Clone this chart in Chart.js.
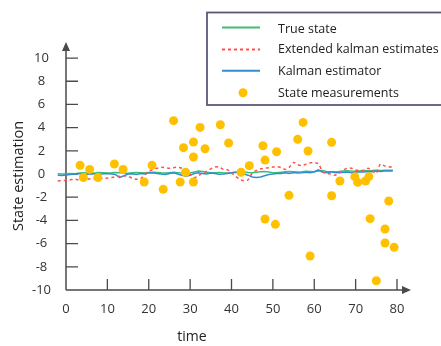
<!DOCTYPE html>
<html><head><meta charset="utf-8">
<script src="https://cdn.jsdelivr.net/npm/chart.js@4.4.0/dist/chart.umd.min.js"></script>
<style>html,body{margin:0;padding:0;background:#fff;}</style>
</head><body>
<canvas id="c" width="441" height="346"></canvas>
<script>
// ---- data ----
const timeSteps = [-2,-1,0,1,2,3,4,5,6,7,8,9,10,11,12,13,14,15,16,17,18,19,20,21,22,23,24,25,26,27,28,29,30,31,32,33,34,35,36,37,38,39,40,41,42,43,44,45,46,47,48,49,50,51,52,53,54,55,56,57,58,59,60,61,62,63,64,65,66,67,68,69,70,71,72,73,74,75,76,77,78,79];
const trueState = [0.02,0.0,0.03,0.05,0.02,0.06,0.1,0.08,0.05,0.09,0.12,0.1,0.08,0.1,0.13,0.11,0.08,0.06,0.1,0.14,0.12,0.1,0.13,0.16,0.14,0.1,0.08,0.12,0.15,0.12,0.08,0.05,0.1,0.18,0.25,0.22,0.15,0.1,0.12,0.14,0.1,0.08,0.12,0.16,0.2,0.18,0.13,0.1,0.15,0.2,0.22,0.18,0.12,0.1,0.15,0.2,0.22,0.2,0.18,0.2,0.24,0.22,0.2,0.25,0.3,0.22,0.18,0.2,0.22,0.25,0.28,0.25,0.24,0.27,0.3,0.28,0.3,0.32,0.3,0.32,0.33,0.32];
const extendedKalman = [-0.6,-0.58,-0.55,-0.5,-0.45,-0.5,-0.5,-0.45,-0.4,-0.38,-0.35,-0.4,-0.35,-0.3,-0.25,-0.2,-0.15,-0.2,-0.35,-0.45,-0.4,-0.1,0.23,0.4,0.5,0.58,0.55,0.5,0.55,0.58,0.5,0.35,0.0,-0.3,-0.15,0.1,0.23,0.45,0.6,0.6,0.4,0.37,0.1,-0.2,-0.45,-0.58,-0.5,0.08,0.3,0.45,0.5,0.55,0.6,0.63,0.55,0.4,0.6,1.0,0.8,0.72,0.85,0.97,0.95,0.9,0.2,0.05,0.0,-0.1,0.1,0.34,0.5,0.5,0.34,0.3,0.32,0.49,0.3,0.06,0.86,0.7,0.63,0.6];
const kalmanEstimate = [-0.1,-0.12,-0.08,-0.05,0.0,0.05,-0.02,-0.05,0.02,0.0,-0.05,0.02,0.05,0.0,-0.05,-0.3,-0.15,0.0,0.02,-0.05,0.05,0.0,0.08,0.1,0.05,0.0,-0.05,0.05,0.1,0.0,-0.1,-0.2,-0.1,0.05,0.1,0.05,0.0,0.08,0.05,-0.02,0.0,0.05,0.1,0.15,0.1,0.0,-0.1,-0.25,-0.3,-0.25,-0.15,-0.05,0.0,0.05,0.05,0.1,0.05,0.12,0.08,0.1,0.15,0.1,0.2,0.35,0.15,0.1,0.2,0.12,0.1,0.15,0.18,0.1,0.15,0.2,0.18,0.22,0.2,0.25,0.22,0.25,0.28,0.25];
const measTime = [3.4,4.2,5.7,7.7,11.7,13.8,18.9,20.8,23.5,26.0,27.6,28.4,28.9,30.8,30.8,30.8,32.4,33.6,37.3,39.3,42.3,44.3,47.6,48.1,48.1,50.6,50.9,53.9,56.0,57.3,58.5,59.0,64.2,64.2,66.2,69.8,70.5,72.4,73.2,73.5,75.0,77.1,77.1,78.0,79.3];
const measValue = [0.75,-0.3,0.4,-0.3,0.86,0.4,-0.69,0.75,-1.32,4.6,-0.69,2.27,0.15,2.76,1.47,-0.69,4.02,2.18,4.25,2.67,0.15,0.72,2.44,1.2,-3.88,-4.34,1.92,-1.84,2.99,4.45,1.98,-7.07,2.73,-1.87,-0.6,-0.23,-0.72,-0.6,-0.23,-3.85,-9.2,-4.74,-5.95,-2.33,-6.32];
const xTickValues = [0,10,20,30,40,50,60,70,80];
const yTickValues = [-10,-8,-6,-4,-2,0,2,4,6,8,10];
const seriesNames = ['True state','Extended kalman estimates','Kalman estimator','State measurements'];

const pts = (xs, ys) => xs.map((x, i) => ({x: x, y: ys[i]}));
const FONT = "'Open Sans', 'Noto Sans', sans-serif";
const AXIS = '#4a4a4a';

const axesPlugin = {
  id: 'axesArrows',
  beforeDatasetsDraw(chart) {
    const ctx = chart.ctx, xs = chart.scales.x, ys = chart.scales.y, a = chart.chartArea;
    const x0 = xs.getPixelForValue(0), yb = ys.getPixelForValue(-10);
    ctx.save();
    ctx.strokeStyle = AXIS; ctx.fillStyle = AXIS; ctx.lineWidth = 1.5;
    ctx.beginPath();
    ctx.moveTo(x0, yb); ctx.lineTo(x0, a.top + 4);
    ctx.moveTo(x0, yb); ctx.lineTo(a.right - 4, yb);
    ctx.stroke();
    ctx.lineWidth = 1.3;
    ctx.beginPath();
    xs.ticks.forEach(t => { const p = xs.getPixelForValue(t.value); if (t.value !== 0) { ctx.moveTo(p, yb); ctx.lineTo(p, yb - 11); } });
    ys.ticks.forEach(t => { const p = ys.getPixelForValue(t.value); if (t.value !== -10) { ctx.moveTo(x0, p); ctx.lineTo(x0 + 12, p); } });
    ctx.stroke();
    ctx.beginPath();
    ctx.moveTo(x0, a.top - 2); ctx.lineTo(x0 - 4, a.top + 7); ctx.lineTo(x0 + 4, a.top + 7); ctx.closePath();
    ctx.moveTo(a.right + 1, yb); ctx.lineTo(a.right - 8, yb - 4); ctx.lineTo(a.right - 8, yb + 4); ctx.closePath();
    ctx.fill();
    ctx.restore();
  },
  afterDraw(chart) {
    const ctx = chart.ctx;
    ctx.save();
    ctx.fillStyle = '#222';
    ctx.font = "14px " + FONT;
    ctx.textAlign = 'center'; ctx.textBaseline = 'middle';
    ctx.fillText('time', 192, 337);
    ctx.translate(19, 176); ctx.rotate(-Math.PI / 2);
    ctx.font = "14.5px " + FONT;
    ctx.fillText('State estimation', 0, 0);
    ctx.restore();
    // legend
    ctx.save();
    ctx.strokeStyle = '#5a5a78'; ctx.lineWidth = 1.8;
    ctx.strokeRect(207, 12.5, 236, 92.5);
    const rows = [29, 49.5, 71, 93];
    const lineY = [27.5, 49.5, 70.7, 92.7];
    ctx.font = "12.5px " + FONT; ctx.textAlign = 'left'; ctx.textBaseline = 'middle'; ctx.fillStyle = '#222';
    chart.data.datasets.forEach((ds, i) => {
      const y = lineY[i];
      if (ds.showLine) {
        ctx.save();
        ctx.strokeStyle = ds.borderColor; ctx.lineWidth = 2;
        ctx.setLineDash(ds.borderDash || []);
        ctx.beginPath(); ctx.moveTo(222, y); ctx.lineTo(260, y); ctx.stroke();
        ctx.restore();
      } else {
        ctx.save(); ctx.fillStyle = ds.backgroundColor;
        ctx.beginPath(); ctx.arc(243, y, 4.5, 0, Math.PI * 2); ctx.fill(); ctx.restore();
      }
      ctx.fillText(ds.label, 278, rows[i]);
    });
    ctx.restore();
  }
};

new Chart(document.getElementById('c'), {
  type: 'scatter',
  data: {
    datasets: [
      { label: seriesNames[0], data: pts(timeSteps, trueState), showLine: true, borderColor: 'rgb(60,190,115)', borderWidth: 1.5, pointRadius: 0, order: 3 },
      { label: seriesNames[1], data: pts(timeSteps, extendedKalman), showLine: true, borderColor: 'rgb(255,80,80)', borderWidth: 1.5, borderDash: [3, 3], pointRadius: 0, order: 1, tension: 0.3 },
      { label: seriesNames[2], data: pts(timeSteps, kalmanEstimate), showLine: true, borderColor: 'rgb(50,140,210)', borderWidth: 1.5, pointRadius: 0, order: 2 },
      { label: seriesNames[3], data: pts(measTime, measValue), showLine: false, backgroundColor: 'rgb(255,192,0)', borderColor: 'rgb(255,192,0)', pointRadius: 4.5, borderWidth: 0, order: 0 }
    ]
  },
  plugins: [axesPlugin],
  options: {
    responsive: false, animation: false,
    layout: { padding: { top: 44, right: 31, left: 0, bottom: 0 } },
    plugins: { legend: { display: false }, tooltip: { enabled: false } },
    scales: {
      x: {
        type: 'linear', min: -2.175, max: 83.14,
        grid: { display: false }, border: { display: false },
        afterBuildTicks: s => { s.ticks = xTickValues.map(v => ({value: v})); },
        afterFit: s => { s.height = 56; },
        ticks: { padding: 3, color: '#333', font: { family: FONT, size: 13 }, maxRotation: 0, autoSkip: false }
      },
      y: {
        type: 'linear', min: -10, max: 11.21,
        grid: { display: false }, border: { display: false },
        afterBuildTicks: s => { s.ticks = yTickValues.map(v => ({value: v})); },
        afterFit: s => { s.width = 57; },
        ticks: { padding: -2, crossAlign: 'center', color: '#333', font: { family: FONT, size: 13 }, autoSkip: false }
      }
    }
  }
});
</script>
</body></html>
